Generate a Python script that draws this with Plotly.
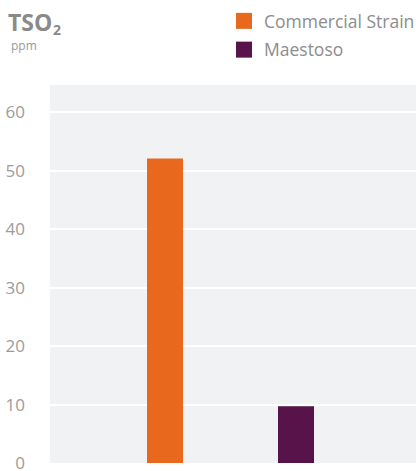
import plotly.graph_objects as go

categories = ["Commercial Strain", "Maestoso"]
values = [52.1, 9.7]
colors = ["#e8691e", "#58134a"]
tick_vals = [0, 10, 20, 30, 40, 50, 60]

FONT = "Open Sans"
W, H = 416, 471
ml, mr, mt, mb = 50, 0, 85, 8

fig = go.Figure()
for c, v, col in zip(categories, values, colors):
    fig.add_trace(go.Bar(x=[c], y=[v], marker=dict(color=col, line=dict(width=0)),
                         width=0.275, showlegend=False, hoverinfo="skip"))
    fig.add_trace(go.Scatter(x=[None], y=[None], mode="markers", name=c,
                             marker=dict(symbol="square", size=16, color=col),
                             legendgroup=c))

pw = W - ml - mr
ph = H - mt - mb


def px(x):
    return (x - ml) / pw


def py(y):
    return (H - y - mb) / ph


fig.update_layout(
    width=W, height=H,
    margin=dict(l=ml, r=mr, t=mt, b=mb, pad=0, autoexpand=False),
    paper_bgcolor="white",
    plot_bgcolor="#f1f2f4",
    barmode="overlay",
    font=dict(family=FONT, color="#8f8f8f"),
    showlegend=True,
    legend=dict(
        x=px(224), xanchor="left",
        y=1 + (mt - 3) / ph, yanchor="top",
        font=dict(size=17.5, color="#8c8c8c", family=FONT),
        bgcolor="rgba(0,0,0,0)",
        traceorder="grouped", tracegroupgap=3,
        itemclick=False,
    ),
    xaxis=dict(
        type="category", range=[-0.878, 1.916],
        showticklabels=False, showgrid=False, zeroline=False, showline=False,
        ticks="",
    ),
    yaxis=dict(
        range=[0, 64.7], tickvals=tick_vals,
        showgrid=True, gridcolor="white", gridwidth=1.5,
        zeroline=False, showline=False, ticks="",
        tickfont=dict(size=17, color="#9c9c9c", family=FONT),
        ticklabelstandoff=24, ticklabeloverflow="allow",
    ),
    annotations=[
        dict(text="<b>TSO</b>", x=px(6), y=py(4),
             xref="paper", yref="paper",
             showarrow=False, xanchor="left", yanchor="top",
             font=dict(size=23, color="#8a8a8a", family=FONT)),
        dict(text="<b>2</b>", x=px(57), y=py(30),
             xref="paper", yref="paper",
             showarrow=False, xanchor="center", yanchor="middle",
             font=dict(size=14, color="#8a8a8a", family=FONT)),
        dict(text="ppm", x=px(9), y=py(35),
             xref="paper", yref="paper",
             showarrow=False, xanchor="left", yanchor="top",
             font=dict(size=12, color="#9a9a9a", family=FONT)),
    ],
)

fig.write_html("out.html", config={"displayModeBar": False},
               post_script="document.body.style.margin='0';")
